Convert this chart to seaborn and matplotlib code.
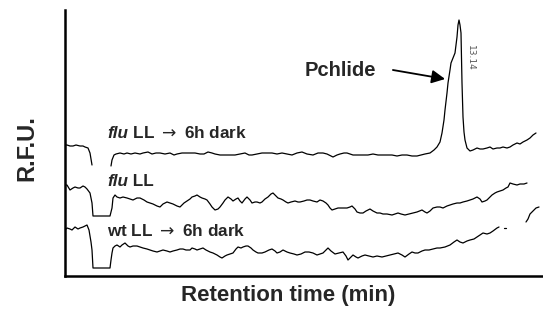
import numpy as np
import pandas as pd
import matplotlib
matplotlib.use("Agg")
import matplotlib.pyplot as plt
import seaborn as sns

# ---------------- data (time in seconds, signal in R.F.U., arbitrary) ----------------
# flu LL -> 6h dark  (two segments: before and after injection dip)
flu_dark_a_t = [0, 4, 10, 16, 22, 30, 36, 40, 46, 50, 54]
flu_dark_a_y = [131, 131, 130, 130, 131, 130, 130, 129, 128, 123, 111]
flu_dark_b_t = [92, 94, 98, 102, 110, 118, 124, 132, 140, 150, 156, 166, 174, 182, 190, 200, 210, 218, 224, 234,
                242, 250, 260, 270, 278, 286, 294, 300, 310, 320, 330, 340, 350, 360, 368, 374, 384, 394, 404, 414,
                424, 434, 444, 454, 464, 474, 484, 496, 506, 516, 524, 536, 544, 550, 558, 564, 576, 586, 596, 606,
                616, 626, 636, 646, 654, 664, 674, 684, 694, 704, 712, 720, 730, 738, 744, 750, 754, 758, 760, 764,
                766, 770, 772, 776, 780, 782, 784, 786, 788, 790, 792, 794, 796, 798, 800, 804, 810, 816, 824, 830,
                836, 844, 850, 856, 864, 870, 876, 884, 890, 896, 904, 910, 916, 924, 930, 936, 942]
flu_dark_b_y = [110, 116, 121, 122, 123, 122, 123, 122, 123, 122, 123, 124, 122, 123, 123, 122, 123, 121, 122, 123,
                123, 123, 123, 122, 122, 124, 123, 122, 121, 121, 121, 121, 122, 123, 121, 121, 122, 123, 123, 123,
                122, 123, 122, 121, 123, 124, 122, 121, 123, 123, 122, 119, 121, 122, 123, 123, 121, 121, 121, 121,
                122, 121, 121, 121, 121, 120, 121, 121, 120, 120, 121, 122, 123, 126, 129, 134, 143, 156, 166, 183,
                193, 206, 213, 218, 223, 231, 239, 251, 256, 251, 243, 193, 159, 144, 136, 128, 125, 126, 128, 127,
                127, 128, 129, 127, 128, 128, 129, 128, 129, 131, 133, 132, 134, 136, 138, 141, 143]

# flu LL (one continuous trace)
flu_ll_t = [0, 4, 10, 16, 20, 26, 30, 36, 40, 44, 50, 54, 56, 90, 94, 96, 100, 104, 110, 116,
            124, 130, 136, 144, 150, 158, 164, 170, 176, 184, 190, 196, 204, 210, 216, 224, 230, 238, 244, 250,
            254, 260, 264, 270, 274, 280, 284, 290, 294, 300, 306, 310, 316, 320, 326, 332, 336, 342, 346, 350,
            354, 360, 364, 370, 374, 380, 384, 390, 394, 400, 406, 412, 416, 422, 426, 432, 436, 442, 446, 452,
            460, 466, 470, 478, 484, 490, 496, 504, 510, 516, 522, 526, 530, 534, 540, 546, 554, 564, 570, 574,
            580, 584, 590, 596, 602, 610, 616, 624, 630, 636, 644, 654, 660, 666, 672, 680, 688, 696, 704, 714,
            720, 724, 730, 736, 744, 750, 756, 764, 770, 776, 784, 790, 796, 804, 810, 816, 824, 830, 834, 840,
            844, 850, 854, 860, 864, 870, 876, 882, 886, 890, 896, 904, 910, 918, 924]
flu_ll_y = [91, 91, 86, 88, 89, 88, 88, 90, 89, 87, 83, 73, 60, 60, 68, 78, 81, 79, 78, 79,
            78, 77, 76, 78, 78, 76, 74, 73, 72, 70, 69, 72, 74, 73, 72, 70, 69, 73, 75, 77,
            79, 80, 81, 79, 78, 77, 76, 72, 69, 66, 67, 69, 73, 76, 79, 77, 75, 77, 78, 75,
            73, 77, 79, 76, 73, 74, 74, 73, 74, 77, 79, 82, 83, 80, 78, 77, 76, 74, 73, 74,
            75, 74, 74, 75, 76, 76, 75, 74, 76, 75, 73, 71, 68, 66, 67, 68, 68, 68, 69, 70,
            67, 64, 63, 63, 65, 67, 65, 63, 63, 62, 62, 61, 62, 63, 62, 61, 62, 63, 64, 66,
            64, 63, 65, 68, 69, 69, 68, 70, 71, 72, 73, 73, 74, 75, 76, 77, 79, 77, 74, 75,
            76, 79, 81, 83, 84, 85, 86, 88, 89, 93, 92, 91, 92, 92, 93]

# wt LL -> 6h dark (three pieces: main trace, isolated dot, end piece)
wt_dark_a_t = [0, 4, 10, 14, 20, 26, 30, 36, 40, 44, 48, 52, 54, 56, 90, 92, 94, 96, 100, 104,
               110, 114, 120, 126, 130, 136, 144, 150, 156, 164, 170, 176, 184, 190, 196, 204, 210, 216, 224, 230,
               236, 242, 250, 254, 260, 264, 270, 276, 282, 290, 296, 304, 310, 314, 320, 324, 330, 336, 342, 346,
               352, 356, 362, 366, 372, 376, 382, 386, 394, 400, 408, 414, 420, 424, 430, 436, 444, 450, 458, 464,
               472, 480, 488, 496, 504, 510, 516, 522, 526, 532, 540, 548, 556, 562, 566, 572, 576, 582, 586, 594,
               600, 608, 616, 624, 634, 642, 650, 658, 666, 674, 680, 688, 694, 700, 706, 714, 720, 728, 736, 744,
               750, 760, 770, 778, 784, 790, 796, 804, 810, 818, 824, 830, 836, 844, 850, 856, 864, 868]
wt_dark_a_y = [46, 48, 47, 46, 49, 47, 48, 49, 50, 51, 46, 34, 26, 8, 8, 16, 23, 28, 30, 31,
               29, 31, 33, 30, 29, 30, 30, 29, 28, 27, 26, 25, 24, 25, 26, 25, 24, 25, 26, 27,
               27, 26, 26, 28, 27, 26, 27, 28, 26, 24, 23, 21, 19, 18, 20, 21, 22, 23, 27, 29,
               28, 29, 30, 30, 28, 26, 24, 23, 23, 24, 26, 27, 25, 23, 24, 26, 24, 23, 22, 21,
               22, 24, 24, 23, 21, 22, 23, 26, 28, 25, 22, 23, 24, 20, 16, 19, 21, 19, 18, 20,
               21, 20, 19, 20, 19, 20, 21, 22, 23, 21, 19, 22, 24, 23, 23, 25, 26, 26, 27, 28,
               28, 29, 31, 34, 36, 34, 33, 35, 36, 37, 39, 41, 43, 42, 43, 45, 48, 49]
wt_dark_b_t = [878, 882]
wt_dark_b_y = [48, 48]
wt_dark_c_t = [922, 926, 930, 936, 942, 948]
wt_dark_c_y = [54, 57, 62, 65, 68, 69]

peak_time_label = "13.14"

# ---------------- assemble long-form table ----------------
pieces = [
    ("flu LL → 6h dark", "a", flu_dark_a_t, flu_dark_a_y),
    ("flu LL → 6h dark", "b", flu_dark_b_t, flu_dark_b_y),
    ("flu LL", "a", flu_ll_t, flu_ll_y),
    ("wt LL → 6h dark", "a", wt_dark_a_t, wt_dark_a_y),
    ("wt LL → 6h dark", "b", wt_dark_b_t, wt_dark_b_y),
    ("wt LL → 6h dark", "c", wt_dark_c_t, wt_dark_c_y),
]
frames = []
for sample, seg, t, y in pieces:
    frames.append(pd.DataFrame({"sample": sample, "segment": sample + seg,
                                "time": np.array(t) / 60.0, "rfu": y}))
df = pd.concat(frames, ignore_index=True)

# ---------------- plot ----------------
sns.set_style("white")
FAM = ["Liberation Sans", "DejaVu Sans"]
plt.rcParams["font.family"] = FAM
plt.rcParams["mathtext.fontset"] = "dejavusans"

W, H = 543, 322
fig = plt.figure(figsize=(W / 100, H / 100), dpi=100)
ax = fig.add_axes([65 / W, (H - 276) / H, (W - 65) / W, (276 - 10) / H])

sns.lineplot(data=df, x="time", y="rfu", hue="sample", units="segment", estimator=None,
             sort=False, palette=["black"] * 3, legend=False, lw=0.9, ax=ax)

ax.set_xlim(0, 478 * 2 / 60)
ax.set_ylim(0, 266)
ax.set_xticks([])
ax.set_yticks([])
sns.despine(ax=ax)
for s in ("left", "bottom"):
    ax.spines[s].set_linewidth(1.8)
    ax.spines[s].set_color("black")

ax.set_xlabel("Retention time (min)", fontsize=16, fontweight="bold")
ax.set_ylabel("R.F.U.", fontsize=17, fontweight="bold")
ax.xaxis.set_label_coords((288 - 65) / 478, -(295 - 276) / 266)
ax.xaxis.label.set_verticalalignment("center")
ax.yaxis.set_label_coords((27 - 65) / 478, (276 - 148) / 266)
ax.yaxis.label.set_verticalalignment("center")

FS = 12.3
ARROW = r"$\rightarrow$"
t1 = ax.text(1.4, 143, "flu", fontsize=FS, fontweight="bold", style="italic", va="center", ha="left")
ax.annotate(" LL " + ARROW + " 6h dark", xy=(1, 0), xycoords=t1, va="bottom", ha="left",
            fontsize=FS, fontweight="bold")
t2 = ax.text(1.4, 94, "flu", fontsize=FS, fontweight="bold", style="italic", va="center", ha="left")
ax.annotate(" LL", xy=(1, 0), xycoords=t2, va="bottom", ha="left", fontsize=FS, fontweight="bold")
ax.text(1.4, 45, "wt LL " + ARROW + " 6h dark", fontsize=FS, fontweight="bold", va="center", ha="left")

ax.text(8.0, 206, "Pchlide", fontsize=14.5, fontweight="bold", va="center", ha="left")
ax.annotate("", xy=(12.67, 197), xytext=(10.93, 206),
            arrowprops=dict(arrowstyle="-|>", color="black", lw=1.3, mutation_scale=20,
                            shrinkA=0, shrinkB=0))
ax.text(13.5, 218, peak_time_label, fontsize=6.5, color="#555555", rotation=270,
        va="center", ha="center", family=["DejaVu Sans"])

fig.savefig("out.png", dpi=100)
